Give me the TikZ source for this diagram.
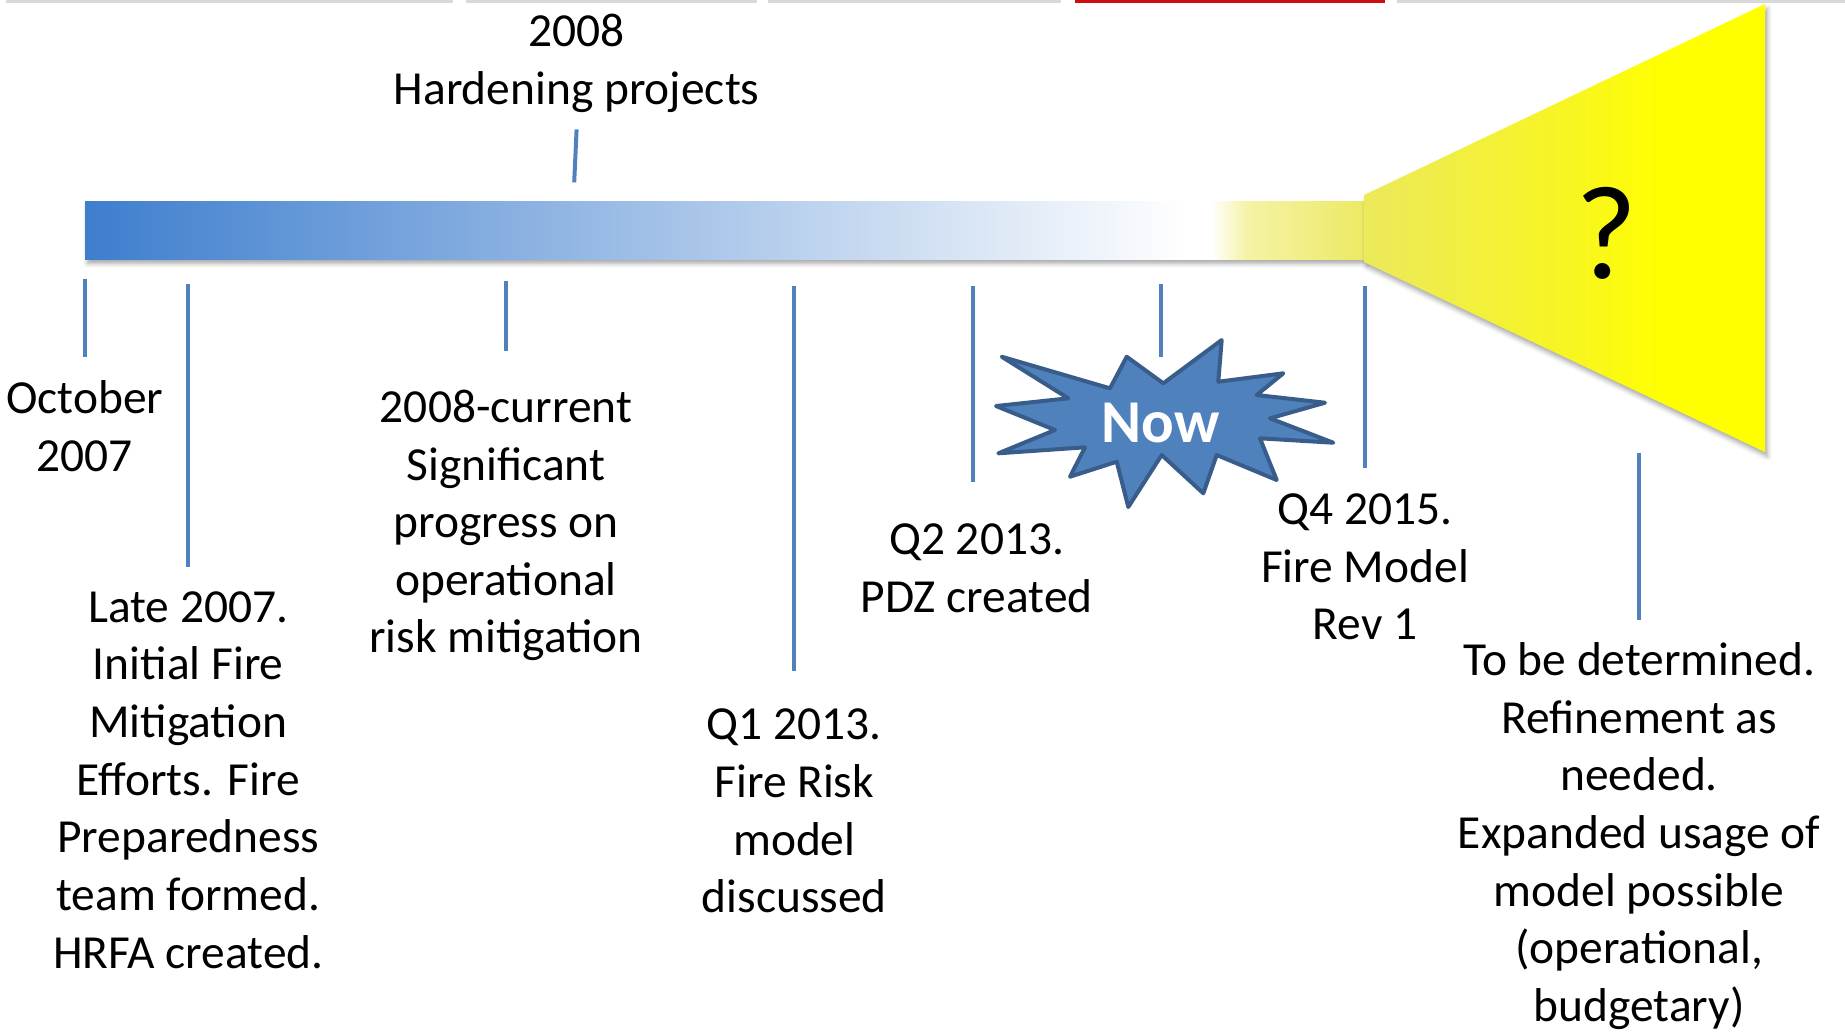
\documentclass[tikz,border=0pt]{standalone}
\usepackage{fontspec}
\setmainfont{Carlito}
\usetikzlibrary{shadows.blur}
\definecolor{tickblue}{RGB}{79,129,189}
\definecolor{burstfill}{RGB}{79,129,189}
\definecolor{burstline}{RGB}{56,93,138}
\definecolor{barblue}{RGB}{62,126,206}
\definecolor{barpale}{RGB}{245,243,165}
\definecolor{baryel}{RGB}{236,233,100}
\definecolor{funleft}{RGB}{236,233,92}
\definecolor{funmid}{RGB}{248,246,30}
\definecolor{pureyel}{RGB}{255,255,0}
\definecolor{topgray}{RGB}{217,217,217}
\definecolor{topred}{RGB}{204,16,16}
\pgfdeclarehorizontalshading{barshade}{100bp}{color(0bp)=(barblue); color(25bp)=(barblue); color(68.1bp)=(white); color(69bp)=(white); color(70.4bp)=(barpale); color(75bp)=(baryel); color(100bp)=(baryel)}
\pgfdeclarehorizontalshading{funshade}{100bp}{color(0bp)=(funleft); color(25bp)=(funleft); color(52bp)=(funmid); color(62bp)=(pureyel); color(100bp)=(pureyel)}
\tikzset{
  lbl/.style={font=\fontsize{13.5}{16.4}\selectfont, align=center, inner sep=0pt, text=black},
  tickline/.style={draw=tickblue, line width=0.4mm},
  topstrip/.style={fill=topgray},
  burst/.style={fill=burstfill, draw=burstline, line width=0.4mm, line join=round},
  softshadow/.style={blur shadow={shadow xshift=0.25mm, shadow yshift=-0.45mm, shadow blur radius=0.45mm, shadow opacity=35}}
}
\begin{document}
\begin{tikzpicture}[x=0.1mm, y=-0.1mm]
\useasboundingbox (0,0) rectangle (1845,1031);
% top strips
\fill[topstrip] (6,0) rectangle (453,3);
\fill[topstrip] (466,0) rectangle (757,3);
\fill[topstrip] (768,0) rectangle (1061,3);
\fill[topred] (1075,0) rectangle (1385,3);
\fill[topstrip] (1397,0) rectangle (1845,3);
% bar
\path[softshadow, shading=barshade] (85,201) rectangle (1365,259);
% funnel
\path[softshadow, shading=funshade] (1364,195) -- (1765,4) -- (1765,452) -- (1364,262) -- cycle;
\node[font=\fontsize{38}{44}\selectfont, inner sep=0pt] (q) at (1606,233) {?};
% labels
\node[lbl] (t2008) at (576.6,63.5) {2008\\Hardening projects};
\node[lbl] (oct) at (84.7,426) {October\\2007};
\node[lbl] (late) at (188.3,780) {Late 2007.\\Initial Fire\\Mitigation\\Efforts. Fire\\Preparedness\\team formed.\\HRFA created.};
\node[lbl] (cur) at (506,525.5) {2008-current\\Significant\\progress on\\operational\\risk mitigation};
\node[lbl] (q1) at (794.3,811) {Q1 2013.\\Fire Risk\\model\\discussed};
\node[lbl] (q2) at (976.7,568) {Q2 2013.\\PDZ created};
\node[lbl] (q4) at (1365,567) {Q4 2015.\\Fire Model\\Rev 1};
\node[lbl] (tbd) at (1639.1,836) {To be determined.\\Refinement as\\needed.\\Expanded usage of\\model possible\\(operational,\\budgetary)};
% tick coordinates
\coordinate (a1) at (576.6,129.4); \coordinate (a2) at (574.2,182.4);
\coordinate (b1) at (84.7,279); \coordinate (b2) at (84.7,356.5);
\coordinate (c1) at (188.3,283.6); \coordinate (c2) at (188.3,567.2);
\coordinate (d1) at (506,281.2); \coordinate (d2) at (506,350.7);
\coordinate (e1) at (794.3,286); \coordinate (e2) at (794.3,670.7);
\coordinate (f1) at (973.1,286); \coordinate (f2) at (973.1,482.4);
\coordinate (g1) at (1161.4,283.6); \coordinate (g2) at (1161.4,356.5);
\coordinate (h1) at (1365,286); \coordinate (h2) at (1365,468.3);
\coordinate (k1) at (1639.1,453); \coordinate (k2) at (1639.1,620.1);
\foreach \s/\e in {a1/a2,b1/b2,c1/c2,d1/d2,e1/e2,f1/f2,g1/g2,h1/h2,k1/k2}
  \draw[tickline] (\s) -- (\e);
% starburst
\draw[burst] (1001.7,356.7) -- (1110,388.3) -- (1126.7,356.7) -- (1163.3,383.3) -- (1221.7,340) -- (1218.3,381.7) -- (1283.3,373.3) -- (1256.7,395) -- (1325,402.7) -- (1270,418.3) -- (1333.3,442.7) -- (1260,438.3) -- (1276.7,480) -- (1216.7,455) -- (1203.3,493.3) -- (1161.7,455) -- (1128.3,507) -- (1116.7,461.7) -- (1070,476.7) -- (1085,447.3) -- (998.3,453.3) -- (1055,430) -- (996,406) -- (1068.3,398.3) -- cycle;
\node[font=\fontsize{17.3}{20}\bfseries\selectfont, text=white, inner sep=0pt] (now) at (1160.7,423.3) {Now};
\end{tikzpicture}
\end{document}
